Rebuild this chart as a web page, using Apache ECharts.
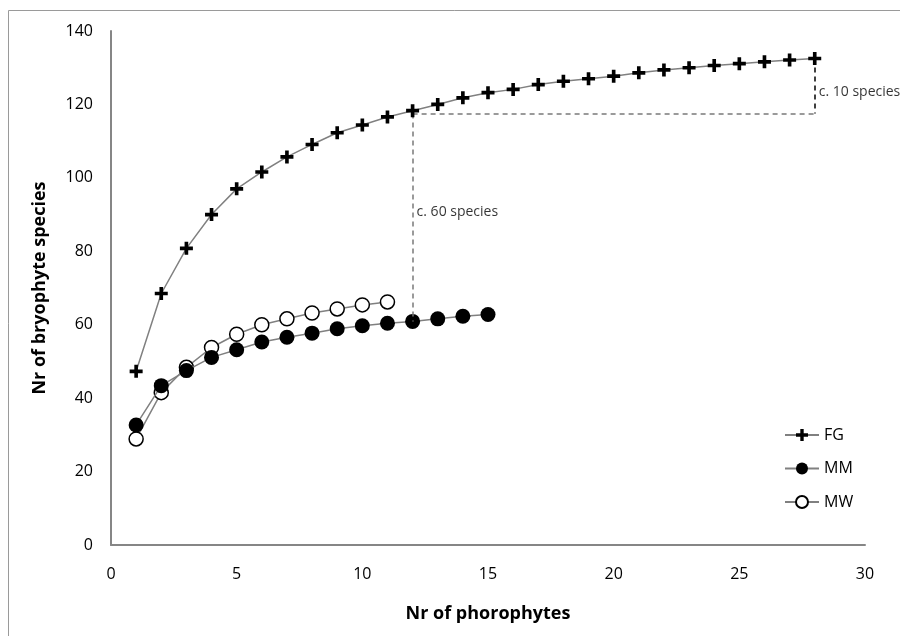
<!DOCTYPE html>
<html>
<head>
<meta charset="utf-8">
<script src="https://cdn.jsdelivr.net/npm/echarts@6/dist/echarts.min.js"></script>
<style>
  html, body { margin: 0; padding: 0; background: #fff; }
  #chart { width: 900px; height: 636px; }
</style>
</head>
<body>
<div id="chart"></div>
<script>
// Species accumulation by number of phorophytes sampled
const phorophytes = [1, 2, 3, 4, 5, 6, 7, 8, 9, 10, 11, 12, 13, 14, 15, 16, 17, 18, 19, 20, 21, 22, 23, 24, 25, 26, 27, 28];
const fgSpecies = [47.3, 68.5, 80.8, 90.0, 97.0, 101.6, 105.7, 109.1, 112.3, 114.4, 116.6, 118.3, 120.0, 121.8, 123.2, 124.1, 125.4, 126.3, 127.0, 127.7, 128.6, 129.4, 130.0, 130.6, 131.1, 131.6, 132.1, 132.5];
const mmSpecies = [32.7, 43.4, 47.5, 51.1, 53.2, 55.3, 56.6, 57.7, 58.9, 59.7, 60.4, 60.9, 61.6, 62.3, 62.8];
const mwSpecies = [28.9, 41.5, 48.4, 53.8, 57.4, 60.0, 61.6, 63.2, 64.3, 65.4, 66.2];
const seriesNames = ['FG', 'MM', 'MW'];
const xTicks = { min: 0, max: 30, step: 5 };
const yTicks = { min: 0, max: 140, step: 20 };

// Reference level used for the comparison guides
const refLevel = 117.5;
const refX = 12;
const endX = 28;
const notes = [
  { text: 'c. 60 species', x: 12, y: 90.6 },
  { text: 'c. 10 species', x: 28, y: 123.5 }
];

const pairs = (vals) => vals.map((v, i) => [phorophytes[i], v]);
const FONT = '"Open Sans", "Liberation Sans", sans-serif';
const plusPath = 'path://M3.6,0 H6.4 V3.6 H10 V6.4 H6.4 V10 H3.6 V6.4 H0 V3.6 H3.6 Z';

const chart = echarts.init(document.getElementById('chart'), null, { renderer: 'canvas' });

chart.setOption({
  animation: false,
  backgroundColor: '#fff',
  graphic: [{
    type: 'rect',
    shape: { x: 8.5, y: 10.5, width: 1000, height: 1000 },
    style: { fill: 'none', stroke: '#9a9a9a', lineWidth: 1 },
    silent: true
  }],
  grid: { left: 111, right: 35, top: 31, bottom: 91, containLabel: false },
  legend: {
    orient: 'vertical',
    left: 779,
    top: 422,
    itemWidth: 34,
    itemHeight: 15,
    itemGap: 17.5,
    data: seriesNames,
    textStyle: { fontFamily: FONT, fontSize: 16, color: '#000' }
  },
  xAxis: {
    type: 'value',
    min: xTicks.min, max: xTicks.max, interval: xTicks.step,
    name: 'Nr of phorophytes',
    nameLocation: 'middle',
    nameGap: 60,
    nameTextStyle: { fontFamily: FONT, fontSize: 18, fontWeight: 'bold', color: '#000' },
    axisLine: { lineStyle: { color: '#868686', width: 2 } },
    axisTick: { show: false },
    splitLine: { show: false },
    axisLabel: { fontFamily: FONT, fontSize: 16, color: '#000', margin: 21 }
  },
  yAxis: {
    type: 'value',
    min: yTicks.min, max: yTicks.max, interval: yTicks.step,
    name: 'Nr of bryophyte species',
    nameLocation: 'middle',
    nameGap: 62,
    nameTextStyle: { fontFamily: FONT, fontSize: 18, fontWeight: 'bold', color: '#000' },
    axisLine: { show: true, lineStyle: { color: '#868686', width: 2 } },
    axisTick: { show: false },
    splitLine: { show: false },
    axisLabel: { fontFamily: FONT, fontSize: 16, color: '#000', margin: 18 }
  },
  series: [
    {
      name: 'FG',
      type: 'line',
      data: pairs(fgSpecies),
      symbol: plusPath,
      symbolSize: 13,
      itemStyle: { color: '#000' },
      lineStyle: { color: '#808080', width: 1.5 },
      z: 5,
      markLine: {
        silent: true,
        symbol: 'none',
        label: { show: false },
        lineStyle: { type: [5, 4], width: 1.5, color: '#7a7a7a' },
        data: [
          [{ coord: [refX, refLevel] }, { coord: [endX, refLevel] }],
          [{ coord: [refX, refLevel] }, { coord: [refX, mmSpecies[refX - 1]] }],
          [{ coord: [endX, fgSpecies[endX - 1]], lineStyle: { color: '#000' } }, { coord: [endX, refLevel] }]
        ]
      }
    },
    {
      name: 'MM',
      type: 'line',
      data: pairs(mmSpecies),
      symbol: 'circle',
      symbolSize: 15,
      itemStyle: { color: '#000' },
      lineStyle: { color: '#808080', width: 1.5 },
      z: 4
    },
    {
      name: 'MW',
      type: 'line',
      data: pairs(mwSpecies),
      symbol: 'circle',
      symbolSize: 14,
      showAllSymbol: true,
      itemStyle: { color: '#fff', borderColor: '#000', borderWidth: 1.5 },
      lineStyle: { color: '#808080', width: 1.5 },
      z: 3
    },
    {
      name: 'notes',
      type: 'scatter',
      silent: true,
      symbolSize: 0,
      data: notes.map(n => ({ value: [n.x, n.y], label: { formatter: n.text } })),
      label: {
        show: true,
        position: 'right',
        distance: 4,
        fontFamily: FONT,
        fontSize: 14,
        color: '#000'
      },
      z: 6
    }
  ]
});
</script>
</body>
</html>
